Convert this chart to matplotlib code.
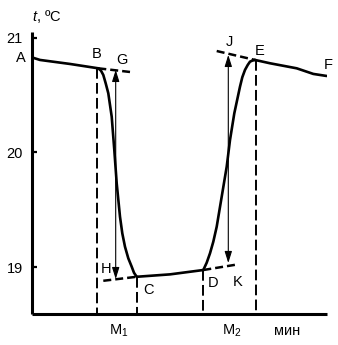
#!/usr/bin/env python3
"""
Calorimetric temperature curve (t vs time) with the graphical correction
construction: fore period AB, main period BC / DE, after period CD / EF.
"""

import matplotlib
matplotlib.use('Agg')
import matplotlib.pyplot as plt
import matplotlib as mpl


# Curve values (time in arbitrary minutes, t in degC)
ab_time = [0.0, 0.8, 3.8, 6.63]
ab_temp = [20.830, 20.808, 20.773, 20.735]

bc_time = [6.63, 6.90, 7.13, 7.37, 7.63, 7.97, 8.23, 8.47, 8.80, 9.03, 9.30, 9.63, 9.97, 10.20, 10.47]
bc_temp = [20.735, 20.714, 20.677, 20.604, 20.517, 20.313, 20.022, 19.731, 19.439, 19.294,
           19.177, 19.076, 19.003, 18.950, 18.915]

cd_time = [10.47, 13.80, 17.13]
cd_temp = [18.915, 18.936, 18.974]

de_time = [17.13, 17.47, 17.80, 18.13, 18.47, 18.97, 19.47, 19.80, 20.23, 20.80, 21.03,
           21.30, 21.57, 21.80, 22.03, 22.30]
de_temp = [18.974, 19.038, 19.120, 19.221, 19.352, 19.614, 19.876, 20.109, 20.342, 20.575,
           20.657, 20.721, 20.764, 20.793, 20.802, 20.808]

ef_time = [22.30, 23.80, 26.47, 28.13, 29.47]
ef_temp = [20.808, 20.779, 20.735, 20.686, 20.668]

# Extrapolated (dashed) tangents
bg_time = [6.63, 9.80]
bg_temp = [20.735, 20.703]
hc_time = [7.13, 10.47]
hc_temp = [18.880, 18.915]
dk_time = [17.13, 20.63]
dk_temp = [18.974, 19.024]
je_time = [18.47, 22.30]
je_temp = [20.886, 20.808]

# Vertical dashed drops (time, temperature at top)
drop_time = [6.47, 10.47, 17.10, 22.40]
drop_temp = [20.735, 18.915, 18.974, 20.808]

# Double arrows M1 and M2 (time, bottom, top)
arrow_time = [8.37, 19.63]
arrow_low = [18.895, 19.035]
arrow_high = [20.721, 20.852]

y_ticks = [19, 20, 21]
y_tick_labels = ['19', '20', '21']

point_labels = ['A', 'B', 'G', 'H', 'C', 'D', 'K', 'J', 'E', 'F']
point_x = [-1.1, 6.5, 9.0, 7.4, 11.6, 18.15, 20.6, 19.75, 22.8, 29.65]
point_y = [20.825, 20.860, 20.808, 18.983, 18.799, 18.860, 18.873, 20.961, 20.882, 20.764]

x_labels = ['M$_1$', 'M$_2$', 'мин']
x_label_pos = [8.7, 20.0, 25.5]

X_MIN, X_MAX = 0.0, 29.5
Y_MIN, Y_MAX = 18.590, 21.052


def setup_style():
    mpl.rcParams['font.family'] = ['Liberation Sans', 'DejaVu Sans']
    mpl.rcParams['font.size'] = 10
    mpl.rcParams['mathtext.fontset'] = 'custom'
    mpl.rcParams['mathtext.rm'] = 'Liberation Sans'
    mpl.rcParams['mathtext.it'] = 'Liberation Sans:italic'
    mpl.rcParams['mathtext.default'] = 'regular'


def main():
    setup_style()
    W, H = 338, 345
    fig = plt.figure(figsize=(W / 100, H / 100), dpi=100)
    ax = fig.add_axes([32 / W, 31 / H, 295 / W, 282 / H])
    ax.set_xlim(X_MIN, X_MAX)
    ax.set_ylim(Y_MIN, Y_MAX)

    for side in ['top', 'right']:
        ax.spines[side].set_visible(False)
    for side in ['left', 'bottom']:
        ax.spines[side].set_linewidth(2.2)
        ax.spines[side].set_capstyle('butt')

    ax.set_xticks([])
    ax.set_yticks(y_ticks)
    ax.set_yticklabels(y_tick_labels, fontsize=10.5)
    ax.tick_params(axis='y', direction='in', length=3.5, width=1.6, pad=6.5)

    # main temperature curve
    solid = dict(color='black', linewidth=1.9, solid_capstyle='round', solid_joinstyle='round')
    for xs, ys in [(ab_time, ab_temp), (bc_time, bc_temp), (cd_time, cd_temp),
                   (de_time, de_temp), (ef_time, ef_temp)]:
        ax.plot(xs, ys, **solid)

    # tangent extrapolations
    tang = dict(color='black', linewidth=1.8, dashes=(3.2, 1.6))
    for xs, ys in [(bg_time, bg_temp), (hc_time, hc_temp), (dk_time, dk_temp), (je_time, je_temp)]:
        ax.plot(xs, ys, **tang)

    # vertical drops to the time axis
    for xv, yv in zip(drop_time, drop_temp):
        ax.plot([xv, xv], [yv, Y_MIN], color='black', linewidth=1.4, dashes=(5.5, 2.2))

    # double arrows
    for xv, lo, hi in zip(arrow_time, arrow_low, arrow_high):
        ax.annotate('', xy=(xv, hi), xytext=(xv, lo),
                    arrowprops=dict(arrowstyle='<|-|>,head_length=0.7,head_width=0.22',
                                    color='black', lw=0.8, mutation_scale=10,
                                    shrinkA=0, shrinkB=0))

    for lab, xv, yv in zip(point_labels, point_x, point_y):
        ax.text(xv, yv, lab, ha='center', va='center', fontsize=10.5, clip_on=False)

    for lab, xv in zip(x_labels, x_label_pos):
        ax.text(xv, 18.41, lab, ha='center', va='baseline', fontsize=10.5, clip_on=False)

    ax.text(1.5, 21.183, '$\\mathit{t}$, ºC', ha='center', va='center',
            fontsize=10.5, clip_on=False)

    fig.savefig('out.png', dpi=100)
    plt.close(fig)


if __name__ == '__main__':
    main()
